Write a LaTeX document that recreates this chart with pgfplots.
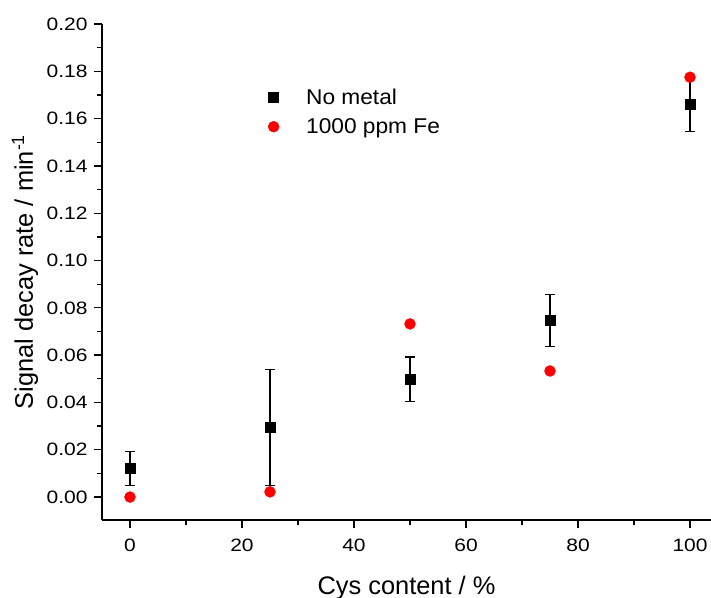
\documentclass[border=0pt]{standalone}
\usepackage{pgfplots}
\pgfplotsset{compat=1.18}
\usepackage{fontspec}
\setmainfont{Liberation Sans}
\newfontfamily\tickfont[FakeStretch=1.17]{Liberation Sans}
\newfontfamily\legfont[FakeStretch=1.06]{Liberation Sans}
\pgfplotstableread{
x y e
0 0.0121 0.0072
25 0.0295 0.0245
50 0.0498 0.0094
75 0.0747 0.0110
100 0.1662 0.0117
}\nometal
\pgfplotstableread{
x y
0 0.0000
25 0.0022
50 0.0732
75 0.0533
100 0.1775
}\fe
\begin{document}
\begin{tikzpicture}
\begin{axis}[
  scale only axis, width=609bp, height=496bp,
  xmin=-5, xmax=103.75, ymin=-0.0097, ymax=0.20,
  axis lines=left, axis line style={-, line width=1.5bp},
  tick align=outside, major tick length=8bp, minor tick length=5bp,
  every tick/.style={line width=1.3bp, black},
  xtick={0,20,40,60,80,100}, minor x tick num=1,
  ytick={0,0.02,0.04,0.06,0.08,0.10,0.12,0.14,0.16,0.18,0.20}, minor y tick num=1,
  /pgf/number format/assume math mode=true,
  yticklabel style={xshift=-3bp, /pgf/number format/.cd, fixed, fixed zerofill, precision=2},
  scaled y ticks=false,
  tick label style={font=\tickfont\fontsize{18}{21}\selectfont},
  xticklabel style={yshift=-7bp},
  label style={font=\fontsize{25.5}{29}\selectfont},
  xlabel={Cys content / \%},
  ylabel={Signal decay rate / min\textsuperscript{-1}},
  xlabel style={at={(axis description cs:0.5,0)}, anchor=base, yshift=-74bp},
  ylabel style={at={([xshift=-69bp]axis description cs:0,0.5)}, anchor=base},
  clip=false,
  reverse legend,
  legend cell align=left,
  legend style={draw=none, fill=none, font=\legfont\fontsize{21.5}{24}\selectfont, at={(axis cs:24.1,0.1745)}, anchor=north west, row sep=9bp, column sep=25bp},
]
\addplot[only marks, mark=*, color=red, mark size=5.5bp] table[x=x,y=y] {\fe};
\addlegendentry{1000 ppm Fe}
\addplot[only marks, mark=square*, color=black, mark size=5bp,
  error bars/.cd, y dir=both, y explicit,
  error bar style={line width=1.2bp, black},
  error mark options={rotate=90, mark size=5bp, line width=1.2bp, black}]
  table[x=x,y=y,y error=e] {\nometal};
\addlegendentry{No metal}
\end{axis}
\pgfresetboundingbox
\path[use as bounding box] ([shift={(-102bp,-78bp)}]current axis.south west) rectangle ([shift={(0bp,24bp)}]current axis.north east);
\end{tikzpicture}
\end{document}
